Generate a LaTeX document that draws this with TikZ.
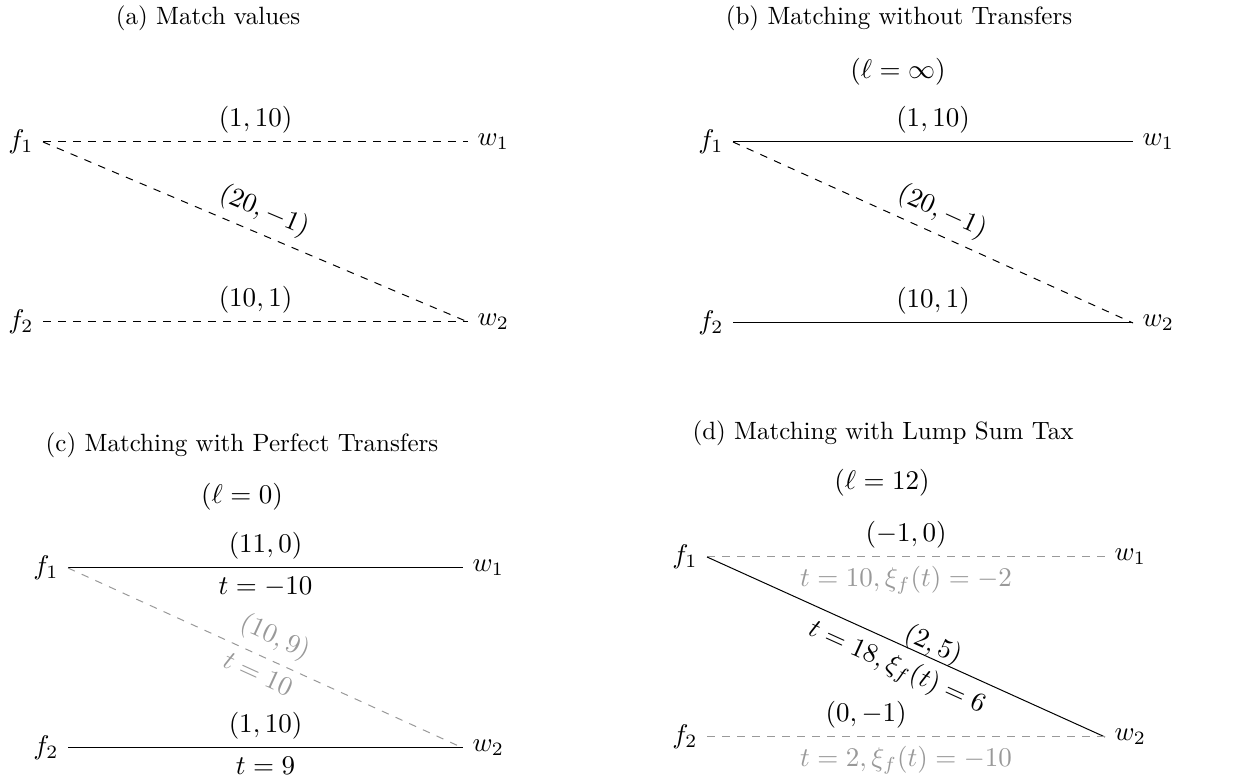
\RequirePackage{fix-cm}
\documentclass[tikz,border=0pt]{standalone}
\colorlet{offgray}{black!40}

\begin{document}
\begin{tikzpicture}[
    x=0.4pt, y=0.4pt,
    font=\fontsize{10.8}{13}\selectfont,
    agent/.style={inner sep=3.6pt},
    panel/.style={font=\fontsize{10}{12}\selectfont},
    match/.style={draw=black,thin},
    nomatch/.style={draw=black,thin,dashed},
    offmatch/.style={draw=offgray,thin,dashed},
    offtext/.style={text=offgray}
  ]
  \useasboundingbox (0,0) rectangle (1254,784);

  % (a) match values
  \node[panel] (capa) at (208,766) {(a) Match values};
  \node[agent,anchor=east] (af1) at (43,642) {$f_1$};
  \node[agent,anchor=east] (af2) at (43,462) {$f_2$};
  \node[agent,anchor=west] (aw1) at (468,642) {$w_1$};
  \node[agent,anchor=west] (aw2) at (468,462) {$w_2$};
  \draw[nomatch] (af1.east) -- node[above] (la1) {$(1,10)$} (aw1.west);
  \draw[nomatch] (af1.east) -- node[above,sloped] (la2) {$(20,-1)$} (aw2.west);
  \draw[nomatch] (af2.east) -- node[above] (la3) {$(10,1)$} (aw2.west);

  % (b) no transfers
  \node[panel] (capb) at (899,766) {(b) Matching without Transfers};
  \node (ellb) at (898,712) {$(\ell=\infty)$};
  \node[agent,anchor=east] (bf1) at (733,642) {$f_1$};
  \node[agent,anchor=east] (bf2) at (733,461) {$f_2$};
  \node[agent,anchor=west] (bw1) at (1133,642) {$w_1$};
  \node[agent,anchor=west] (bw2) at (1133,461) {$w_2$};
  \draw[match] (bf1.east) -- node[above] (lb1) {$(1,10)$} (bw1.west);
  \draw[nomatch] (bf1.east) -- node[above,sloped] (lb2) {$(20,-1)$} (bw2.west);
  \draw[match] (bf2.east) -- node[above] (lb3) {$(10,1)$} (bw2.west);

  % (c) perfect transfers
  \node[panel] (capc) at (242,339) {(c) Matching with Perfect Transfers};
  \node (ellc) at (242,287) {$(\ell=0)$};
  \node[agent,anchor=east] (cf1) at (68,216) {$f_1$};
  \node[agent,anchor=east] (cf2) at (68,36) {$f_2$};
  \node[agent,anchor=west] (cw1) at (463,216) {$w_1$};
  \node[agent,anchor=west] (cw2) at (463,36) {$w_2$};
  \draw[match] (cf1.east) -- node[above] (lc1) {$(11,0)$}
    node[below] (lc2) {$t=-10$} (cw1.west);
  \draw[offmatch] (cf1.east) -- node[above,sloped,offtext] (lc3) {$(10,9)$}
    node[below,sloped,offtext] (lc4) {$t=10$} (cw2.west);
  \draw[match] (cf2.east) -- node[above] (lc5) {$(1,10)$}
    node[below] (lc6) {$t=9$} (cw2.west);

  % (d) lump sum tax
  \node[panel] (capd) at (883,351) {(d) Matching with Lump Sum Tax};
  \node (elld) at (882,301) {$(\ell=12)$};
  \node[agent,anchor=east] (df1) at (707,227) {$f_1$};
  \node[agent,anchor=east] (df2) at (707,47) {$f_2$};
  \node[agent,anchor=west] (dw1) at (1105,227) {$w_1$};
  \node[agent,anchor=west] (dw2) at (1105,47) {$w_2$};
  \draw[offmatch] (df1.east) -- node[above] (ld1) {$(-1,0)$}
    node[below,offtext] (ld2) {$t=10,\xi_f(t)=-2$} (dw1.west);
  \draw[match] (df1.east) -- node[above=-4pt,sloped,pos=0.555] (ld3) {$(2,5)$}
    node[below,sloped] (ld4) {$t=18,\xi_f(t)=6$} (dw2.west);
  \draw[offmatch] (df2.east) -- node[above,pos=0.4] (ld5) {$(0,-1)$}
    node[below,offtext] (ld6) {$t=2,\xi_f(t)=-10$} (dw2.west);
\end{tikzpicture}
\end{document}
